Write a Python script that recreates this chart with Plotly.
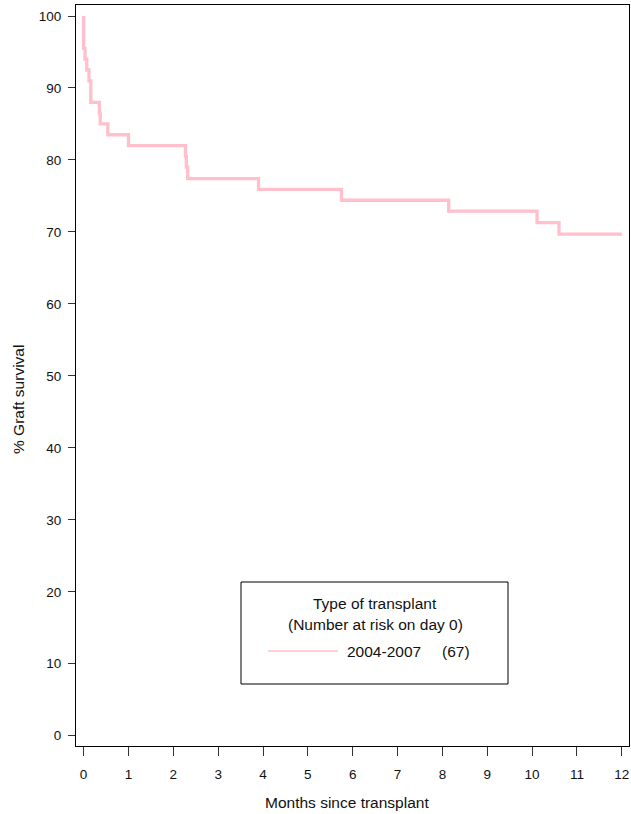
import plotly.graph_objects as go

# Kaplan-Meier graft survival, first year after transplant
months = [0.0, 0.03, 0.07, 0.12, 0.16, 0.35, 0.37, 0.54, 1.00, 2.27, 2.29, 2.32,
          3.90, 5.75, 8.14, 10.11, 10.60, 12.0]
survival = [95.5, 94.0, 92.5, 91.0, 88.0, 86.5, 85.0, 83.5, 82.0, 80.5, 79.0, 77.4,
            75.9, 74.4, 72.9, 71.3, 69.7, 69.7]

x_ticks = list(range(0, 13))
y_ticks = list(range(0, 101, 10))

group_name = "2004-2007"
n_at_risk = 67
legend_title = ["Type of transplant", "(Number at risk on day 0)"]
x_title = "Months since transplant"
y_title = "% Graft survival"

CURVE = "#FFC0CB"
FONT = "Liberation Sans, Arial, sans-serif"

# the curve starts at 100% on day 0
xs = [0.0] + months
ys = [100.0] + survival

fig = go.Figure()
fig.add_trace(go.Scatter(
    x=xs, y=ys, mode="lines", line=dict(color=CURVE, width=3.3, shape="hv"),
    name=group_name, showlegend=False, hoverinfo="skip",
))

W, H = 631, 814
L, R, T, B = 76, 2, 5, 68
pw, ph = W - L - R, H - T - B


def px(x):
    return (x - L) / pw


def py(y):
    return (H - B - y) / ph


axis_common = dict(
    showline=True, linecolor="black", linewidth=1, mirror=True,
    ticks="outside", tickcolor="#333333", tickwidth=1,
    showgrid=False, zeroline=False,
    tickfont=dict(family=FONT, size=13.5, color="#111111"),
)

fig.update_xaxes(range=[-0.17, 12.16], tickvals=x_ticks, ticklen=9,
                 ticklabelstandoff=7, **axis_common)
fig.update_yaxes(range=[-1.43, 101.53], tickvals=y_ticks, ticklen=7,
                 ticklabelstandoff=4, **axis_common)

shapes = [
    # legend frame
    dict(type="rect", xref="paper", yref="paper",
         x0=px(241), x1=px(508), y0=py(684), y1=py(582),
         line=dict(color="black", width=1), fillcolor="white"),
    # legend key
    dict(type="line", xref="paper", yref="paper",
         x0=px(268), x1=px(338), y0=py(651), y1=py(651),
         line=dict(color=CURVE, width=1.6)),
]

txt = dict(family=FONT, size=15.5, color="#111111")
annotations = [
    dict(text=legend_title[0], xref="paper", yref="paper", x=px(375), y=py(603),
         xanchor="center", yanchor="middle", showarrow=False, font=txt),
    dict(text=legend_title[1], xref="paper", yref="paper", x=px(375), y=py(624),
         xanchor="center", yanchor="middle", showarrow=False, font=txt),
    dict(text=group_name, xref="paper", yref="paper", x=px(345), y=py(651),
         xanchor="left", yanchor="middle", showarrow=False, font=txt),
    dict(text=f"({n_at_risk})", xref="paper", yref="paper", x=px(440), y=py(651),
         xanchor="left", yanchor="middle", showarrow=False, font=txt),
    dict(text=x_title, xref="paper", yref="paper", x=px(347), y=py(802),
         xanchor="center", yanchor="middle", showarrow=False,
         font=dict(family=FONT, size=15.5, color="#111111")),
    dict(text=y_title, xref="paper", yref="paper", x=px(18), y=py(400),
         xanchor="center", yanchor="middle", textangle=-90, showarrow=False,
         font=dict(family=FONT, size=15.5, color="#111111")),
]

fig.update_layout(
    width=W, height=H,
    margin=dict(l=L, r=R, t=T, b=B),
    paper_bgcolor="white", plot_bgcolor="white",
    shapes=shapes, annotations=annotations,
    showlegend=False,
)

fig.write_html("out.html")
